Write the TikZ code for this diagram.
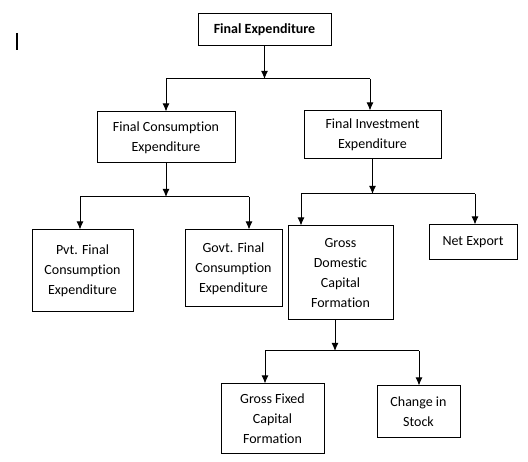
\documentclass[tikz,border=0pt]{standalone}
\usepackage{fontspec}
\setmainfont{Carlito}[Ligatures=NoCommon]
\usetikzlibrary{arrows.meta}
\usetikzlibrary{positioning}

\tikzset{
  box/.style={draw, line width=1pt, align=center, inner sep=0pt,
    font=\fontsize{14}{20}\selectfont},
  arr/.style={-{Latex[length=8pt,width=7pt]}, line width=1pt},
}

\begin{document}
\begin{tikzpicture}[x=1pt,y=-1pt]
  \useasboundingbox (0,0) rectangle (528,462);

  % stray cursor mark
  \draw[line width=2pt] (17,33) -- (17,50);

  % Boxes
  \node[box, minimum width=133pt, minimum height=32pt] (final) at (264.5,30) {\bfseries Final Expenditure};
  \node[box, minimum width=138pt, minimum height=51pt] (cons) at (166,137.5) {Final Consumption\\Expenditure};
  \node[box, minimum width=137pt, minimum height=48pt] (inv) at (372.5,135) {Final Investment\\Expenditure};
  \node[box, minimum width=101pt, minimum height=82pt] (pvt) at (82.5,271) {Pvt. Final\\Consumption\\Expenditure};
  \node[box, minimum width=97pt, minimum height=77pt] (govt) at (233.5,268.5) {Govt. Final\\Consumption\\Expenditure};
  \node[box, minimum width=105pt, minimum height=94pt] (gdcf) at (340.5,273) {Gross\\Domestic\\Capital\\Formation};
  \node[box, minimum width=88pt, minimum height=35pt] (netexp) at (473,242.5) {Net Export};
  \node[box, minimum width=103pt, minimum height=70pt] (gfcf) at (272.5,419) {Gross Fixed\\Capital\\Formation};
  \node[box, minimum width=83pt, minimum height=52pt] (stock) at (418.5,412) {Change in\\Stock};

  % Junction points
  \coordinate (fin1) at (166,79);   \coordinate (fin2) at (370,79);
  \coordinate (con1) at (80,197);   \coordinate (con2) at (249,197);
  \coordinate (inv1) at (301,194);  \coordinate (inv2) at (475,194);
  \coordinate (gd1) at (265,351);   \coordinate (gd2) at (419,351);
  \coordinate (gdstem) at (335,351);

  % Stems
  \draw[arr] (final.south) -- (final.south |- fin1);
  \draw[arr] (cons.south) -- (cons.south |- con1);
  \draw[arr] (inv.south) -- (inv.south |- inv1);
  \draw[arr] (gdstem |- gdcf.south) -- (gdstem);

  % Branches
  \foreach \a/\b/\c/\d in {fin1/fin2/cons/inv, con1/con2/pvt/govt, inv1/inv2/gdcf/netexp, gd1/gd2/gfcf/stock}
      {\draw[line width=1pt] (\a) -- (\b);
      \draw[arr] (\a) -- (\a |- \c.north);
      \draw[arr] (\b) -- (\b |- \d.north);}
\end{tikzpicture}
\end{document}
